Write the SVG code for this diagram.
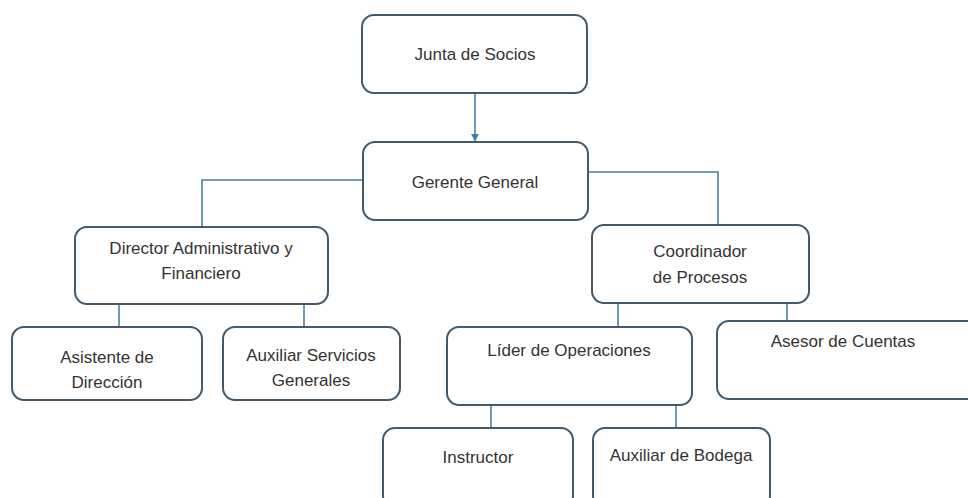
<svg xmlns="http://www.w3.org/2000/svg" width="968" height="498" viewBox="0 0 968 498">
<style>
.box{fill:#fff;stroke:#44596a;stroke-width:2}
.t{font-family:"Liberation Sans",Arial,sans-serif;font-size:17px;fill:#333;text-anchor:middle}
.c{fill:none;stroke:#4a80a3;stroke-width:1.6}
</style>
<defs>
<marker id="ah" viewBox="0 0 10 10" refX="9" refY="5" markerWidth="5" markerHeight="5" orient="auto">
<path d="M0,0 L10,5 L0,10 z" fill="#4a80a3"/>
</marker>
</defs>
<rect width="968" height="498" fill="#fff"/>
<g id="connectors">
<line class="c" x1="475" y1="93" x2="475" y2="141" marker-end="url(#ah)"/>
<polyline class="c" points="363,180 202,180 202,227"/>
<polyline class="c" points="588,172 718,172 718,225"/>
<line class="c" x1="119" y1="304" x2="119" y2="327"/>
<line class="c" x1="304" y1="304" x2="304" y2="327"/>
<line class="c" x1="618" y1="303" x2="618" y2="327"/>
<line class="c" x1="787" y1="303" x2="787" y2="321"/>
<line class="c" x1="491" y1="405" x2="491" y2="428"/>
<line class="c" x1="676" y1="405" x2="676" y2="428"/>
</g>
<g id="junta"><rect class="box" x="362" y="15" width="225" height="78" rx="12"/><text class="t" x="475" y="60">Junta de Socios</text></g>
<g id="gerente"><rect class="box" x="363" y="142" width="225" height="78" rx="12"/><text class="t" x="475" y="188">Gerente General</text></g>
<g id="director"><rect class="box" x="75" y="227" width="253" height="77" rx="12"/><text class="t" x="201" y="254">Director Administrativo y</text><text class="t" x="201" y="279">Financiero</text></g>
<g id="asistente"><rect class="box" x="12" y="327" width="190" height="73" rx="12"/><text class="t" x="107" y="363">Asistente de</text><text class="t" x="107" y="388">Dirección</text></g>
<g id="auxserv"><rect class="box" x="223" y="327" width="177" height="73" rx="12"/><text class="t" x="311" y="361">Auxiliar Servicios</text><text class="t" x="311" y="386">Generales</text></g>
<g id="coordinador"><rect class="box" x="592" y="225" width="217" height="78" rx="12"/><text class="t" x="700" y="257">Coordinador</text><text class="t" x="700" y="283">de Procesos</text></g>
<g id="lider"><rect class="box" x="447" y="327" width="245" height="78" rx="12"/><text class="t" x="569" y="356">Líder de Operaciones</text></g>
<g id="asesor"><rect class="box" x="717" y="321" width="262" height="78" rx="12"/><text class="t" x="843" y="347">Asesor de Cuentas</text></g>
<g id="instructor"><rect class="box" x="383" y="428" width="190" height="80" rx="12"/><text class="t" x="478" y="463">Instructor</text></g>
<g id="auxbodega"><rect class="box" x="593" y="428" width="177" height="80" rx="12"/><text class="t" x="681" y="461">Auxiliar de Bodega</text></g>
</svg>
